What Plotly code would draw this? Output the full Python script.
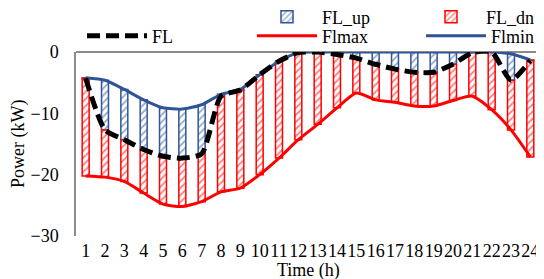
import plotly.graph_objects as go

hours = list(range(1, 25))
tick_labels = [str(h) for h in hours]
FL = [-4.3, -12.7, -14.3, -15.9, -17.0, -17.3, -16.6, -7.2, -6.2, -3.7, -1.5, -0.1,
      0.0, -0.4, -1.0, -2.0, -2.8, -3.3, -3.3, -2.0, -0.1, 0.0, -4.6, -1.4]
Flmin = [-4.2, -4.6, -6.1, -7.8, -9.1, -9.3, -8.6, -6.9, -6.1, -3.7, -1.5, -0.1,
         0.0, 0.0, 0.0, 0.0, 0.0, 0.0, 0.0, 0.0, 0.0, 0.0, -0.3, -1.3]
Flmax = [-20.2, -20.4, -21.1, -23.0, -24.8, -25.2, -24.4, -22.8, -22.2, -20.0, -17.3, -14.3,
         -11.8, -9.1, -6.7, -7.8, -8.2, -8.8, -8.8, -7.9, -7.2, -9.4, -12.7, -17.1]

BLUE = "#2F5597"
RED = "#FF0000"
FONT = "Liberation Serif, Times New Roman, serif"
FS = 18

fl_up = [f - m for f, m in zip(FL, Flmin)]
fl_dn = [x - f for x, f in zip(Flmax, FL)]

fig = go.Figure()
fig.add_trace(go.Bar(
    x=hours, y=fl_up, base=Flmin, name="FL_up", width=0.36,
    marker=dict(color="white", line=dict(color=BLUE, width=1.5),
                pattern=dict(shape="/", fgcolor=BLUE, bgcolor="white", size=5, solidity=0.35)),
    legend="legend2",
))
fig.add_trace(go.Bar(
    x=hours, y=fl_dn, base=FL, name="FL_dn", width=0.36,
    marker=dict(color="white", line=dict(color=RED, width=1.5),
                pattern=dict(shape="/", fgcolor=RED, bgcolor="white", size=5, solidity=0.35)),
    legend="legend3",
))
fig.add_trace(go.Scatter(
    x=hours, y=Flmax, name="Flmax", mode="lines",
    line=dict(color=RED, width=3, shape="spline", smoothing=0.6),
    legend="legend4",
))
fig.add_trace(go.Scatter(
    x=hours, y=Flmin, name="Flmin", mode="lines",
    line=dict(color=BLUE, width=3, shape="spline", smoothing=0.6),
    legend="legend5",
))
fig.add_trace(go.Scatter(
    x=hours, y=FL, name="FL", mode="lines",
    line=dict(color="black", width=5, dash="13px,6px", shape="spline", smoothing=0.6),
    legend="legend",
))

W, H = 532, 271  # page body has an 8px offset
L, T, B = 68, 44, 43
PW, PH = W - L, H - T - B


def leg(px, py, anchor="left"):
    return dict(bgcolor="rgba(0,0,0,0)", font=dict(family=FONT, size=FS, color="black"),
                xanchor=anchor, yanchor="middle", xref="container", yref="container",
                x=px / W, y=1 - py / H, itemwidth=60)


fig.update_layout(
    width=W, height=H,
    margin=dict(l=L, r=0, t=T, b=B, autoexpand=False),
    paper_bgcolor="white", plot_bgcolor="white",
    barmode="overlay", showlegend=True,
    font=dict(family=FONT, size=FS, color="black"),
    legend=leg(74, 28),
    legend2=leg(244, 9),
    legend3=leg(W, 9, "right"),
    legend4=leg(244, 28),
    legend5=leg(W, 28, "right"),
    xaxis=dict(
        range=[0.5, 24.5], tickmode="array", tickvals=hours, ticktext=tick_labels,
        showgrid=False, showline=False, zeroline=False, ticks="", tickangle=0,
        tickfont=dict(family=FONT, size=FS), ticklabelstandoff=2,
    ),
    yaxis=dict(
        range=[-30, 0], tickmode="array", tickvals=[0, -10, -20, -30],
        showgrid=False, showline=True, linecolor="#8C8C8C", linewidth=1.5,
        zeroline=True, zerolinecolor="#8C8C8C", zerolinewidth=1.5, ticks="",
        tickfont=dict(family=FONT, size=FS), ticklabelstandoff=12,
    ),
    annotations=[
        dict(text="Time (h)", xref="paper", yref="paper", x=0.5, y=(228 - 262) / PH,
             xanchor="center", yanchor="middle", showarrow=False,
             font=dict(family=FONT, size=FS)),
        dict(text="Power (kW)", xref="paper", yref="paper", x=(10 - L) / PW, y=0.5,
             xanchor="center", yanchor="middle", textangle=-90, showarrow=False,
             font=dict(family=FONT, size=FS)),
    ],
)

fig.write_html("out.html")
